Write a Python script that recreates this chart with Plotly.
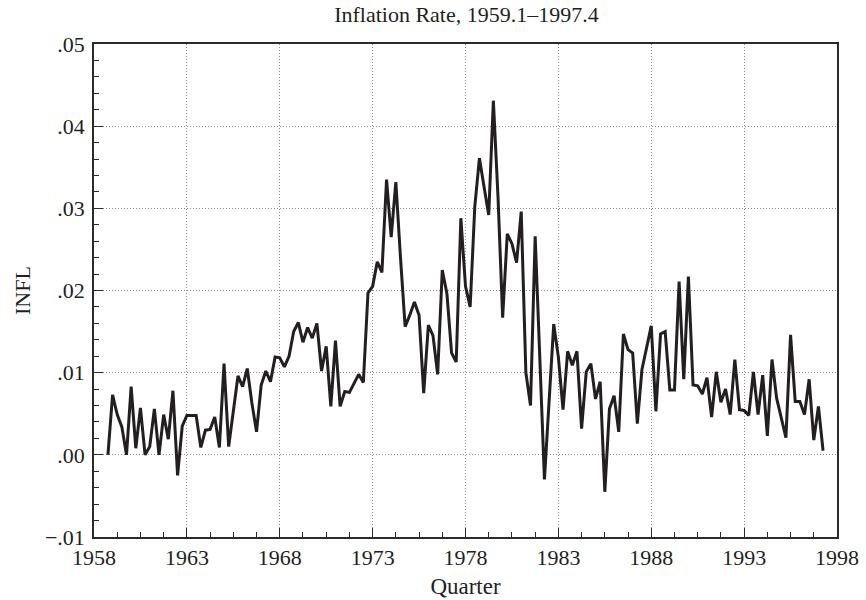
import plotly.graph_objects as go

# Quarterly inflation rate, INFL
infl = [
    0.0000, 0.0073, 0.0049, 0.0034, 0.0000, 0.0083, 0.0008, 0.0057, 0.0000, 0.0010,
    0.0056, 0.0000, 0.0049, 0.0019, 0.0078, -0.0025, 0.0035, 0.0048, 0.0048, 0.0048,
    0.0009, 0.0030, 0.0031, 0.0046, 0.0009, 0.0111, 0.0010, 0.0055, 0.0096, 0.0083,
    0.0105, 0.0063, 0.0028, 0.0085, 0.0102, 0.0089, 0.0119, 0.0118, 0.0107, 0.0120,
    0.0150, 0.0161, 0.0137, 0.0155, 0.0142, 0.0160, 0.0102, 0.0132, 0.0059, 0.0139,
    0.0059, 0.0077, 0.0076, 0.0087, 0.0098, 0.0088, 0.0197, 0.0205, 0.0235, 0.0222,
    0.0335, 0.0265, 0.0332, 0.0240, 0.0156, 0.0170, 0.0186, 0.0170, 0.0075, 0.0158,
    0.0145, 0.0098, 0.0225, 0.0196, 0.0124, 0.0113, 0.0288, 0.0205, 0.0180, 0.0302,
    0.0361, 0.0326, 0.0292, 0.0431, 0.0314, 0.0167, 0.0269, 0.0257, 0.0234, 0.0296,
    0.0100, 0.0060, 0.0266, 0.0118, -0.0030, 0.0065, 0.0159, 0.0119, 0.0055, 0.0126,
    0.0109, 0.0126, 0.0032, 0.0101, 0.0111, 0.0068, 0.0089, -0.0045, 0.0056, 0.0072,
    0.0028, 0.0147, 0.0128, 0.0124, 0.0038, 0.0104, 0.0130, 0.0157, 0.0053, 0.0147,
    0.0150, 0.0079, 0.0079, 0.0211, 0.0092, 0.0217, 0.0085, 0.0084, 0.0074, 0.0094,
    0.0046, 0.0101, 0.0064, 0.0080, 0.0049, 0.0116, 0.0055, 0.0054, 0.0048, 0.0101,
    0.0049, 0.0097, 0.0023, 0.0116, 0.0069, 0.0045, 0.0021, 0.0146, 0.0065, 0.0065,
    0.0049, 0.0092, 0.0018, 0.0059, 0.0005,
]

# Observation dates in years (quarterly steps)
first_obs = 1958.75
quarter_dates = [first_obs + 0.25 * i for i in range(len(infl))]

year_ticks = [1958, 1963, 1968, 1973, 1978, 1983, 1988, 1993, 1998]
y_ticks = [-0.01, 0.00, 0.01, 0.02, 0.03, 0.04, 0.05]
y_tick_text = ["\u2212.01", ".00", ".01", ".02", ".03", ".04", ".05"]

FONT = "Liberation Serif"
INK = "#231f20"
AXIS = "#2b2b2b"
GRID = "#8c8c8c"

fig = go.Figure()
fig.add_trace(go.Scatter(
    x=quarter_dates, y=infl, mode="lines",
    line=dict(color=INK, width=3),
    showlegend=False,
))

fig.update_layout(
    width=866, height=600,
    margin=dict(l=94, r=29, t=44, b=63),
    paper_bgcolor="white", plot_bgcolor="white",
    font=dict(family=FONT, color="#231f20", size=22),
    title=dict(
        text="Inflation Rate, 1959.1\u20131997.4",
        x=0.5386, xanchor="center", y=1 - 14 / 600, yanchor="middle",
        font=dict(family=FONT, size=22, color="#231f20"),
    ),
)

fig.update_xaxes(
    range=[1958, 1998], tickvals=year_ticks, ticktext=[str(v) for v in year_ticks],
    ticks="inside", ticklen=9, tickwidth=1.2, tickcolor=AXIS,
    showline=True, linecolor=AXIS, linewidth=1.6, mirror=True,
    showgrid=True, gridcolor=GRID, griddash="1px,2px", gridwidth=1,
    zeroline=False, automargin=False,
    minor=dict(dtick=1.25, tick0=1958, ticks="inside", ticklen=5, tickwidth=1.2,
               tickcolor=AXIS, showgrid=False),
    tickfont=dict(family=FONT, size=22),
    ticklabelstandoff=0,
    title=dict(text="Quarter", font=dict(family=FONT, size=23), standoff=9),
)

fig.update_yaxes(
    range=[-0.01, 0.05], tickvals=y_ticks, ticktext=y_tick_text,
    ticks="inside", ticklen=9, tickwidth=1.2, tickcolor=AXIS,
    showline=True, linecolor=AXIS, linewidth=1.6, mirror=True,
    showgrid=True, gridcolor=GRID, griddash="1px,2px", gridwidth=1,
    zeroline=False, automargin=False,
    minor=dict(dtick=0.002, tick0=0, ticks="inside", ticklen=5, tickwidth=1.2,
               tickcolor=AXIS, showgrid=False),
    tickfont=dict(family=FONT, size=22),
    ticklabelstandoff=3,
    title=dict(text="INFL", font=dict(family=FONT, size=22), standoff=8),
)

fig.write_html("out.html")
